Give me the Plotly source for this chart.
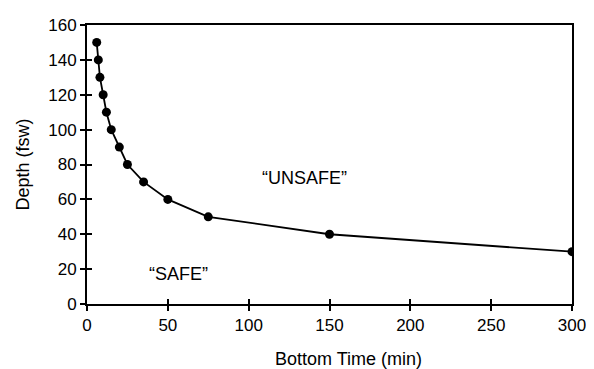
import plotly.graph_objects as go

bottom_time = [6, 7, 8, 10, 12, 15, 20, 25, 35, 50, 75, 150, 300]
depth = [150, 140, 130, 120, 110, 100, 90, 80, 70, 60, 50, 40, 30]
x_ticks = [0, 50, 100, 150, 200, 250, 300]
y_ticks = [0, 20, 40, 60, 80, 100, 120, 140, 160]
region_labels = ["\u201cUNSAFE\u201d", "\u201cSAFE\u201d"]
region_x = [134.5, 56.5]
region_y = [72, 17]
x_title = "Bottom Time (min)"
y_title = "Depth (fsw)"

font = dict(family="Liberation Sans, Arial, sans-serif", color="black")

fig = go.Figure()
fig.add_trace(go.Scatter(
    x=bottom_time, y=depth, mode="lines+markers",
    line=dict(color="black", width=1.8),
    marker=dict(color="black", size=9),
    showlegend=False, hoverinfo="skip"))
# invisible trace on secondary axes to show inner tick marks
fig.add_trace(go.Scatter(x=[0], y=[0], xaxis="x2", yaxis="y2", mode="markers",
                         marker=dict(opacity=0), showlegend=False, hoverinfo="skip"))

for t, xx, yy in zip(region_labels, region_x, region_y):
    fig.add_annotation(x=xx, y=yy, text=t, showarrow=False,
                       font=dict(size=18, **font))

fig.add_annotation(xref="paper", yref="paper", x=0.539, y=0, yshift=-55,
                   xanchor="center", yanchor="middle", text=x_title, showarrow=False,
                   font=dict(size=18, **font))
fig.add_annotation(xref="paper", yref="paper", x=0, y=0.5, xshift=-65,
                   xanchor="center", yanchor="middle", text=y_title, textangle=-90,
                   showarrow=False, font=dict(size=18, **font))

axis_common = dict(showline=True, linecolor="black", linewidth=2, mirror=True,
                   showgrid=False, zeroline=False, ticks="outside", ticklen=5,
                   tickwidth=2, tickcolor="black", tickfont=dict(size=17, **font))

fig.update_layout(
    width=586, height=361,
    margin=dict(l=79, r=21, t=8, b=65, pad=0),
    plot_bgcolor="white", paper_bgcolor="white",
    xaxis=dict(range=[0, 300], tickvals=x_ticks, **axis_common),
    yaxis=dict(range=[0, 160], tickvals=y_ticks, **axis_common),
    xaxis2=dict(range=[0, 300], tickvals=x_ticks, overlaying="x", showticklabels=False,
                ticks="inside", ticklen=5, tickwidth=2, tickcolor="black",
                showgrid=False, zeroline=False, anchor="y2", side="bottom"),
    yaxis2=dict(range=[0, 160], tickvals=y_ticks, overlaying="y", showticklabels=False,
                ticks="inside", ticklen=5, tickwidth=2, tickcolor="black",
                showgrid=False, zeroline=False, anchor="x2", side="left"),
)

fig.write_html("out.html")
